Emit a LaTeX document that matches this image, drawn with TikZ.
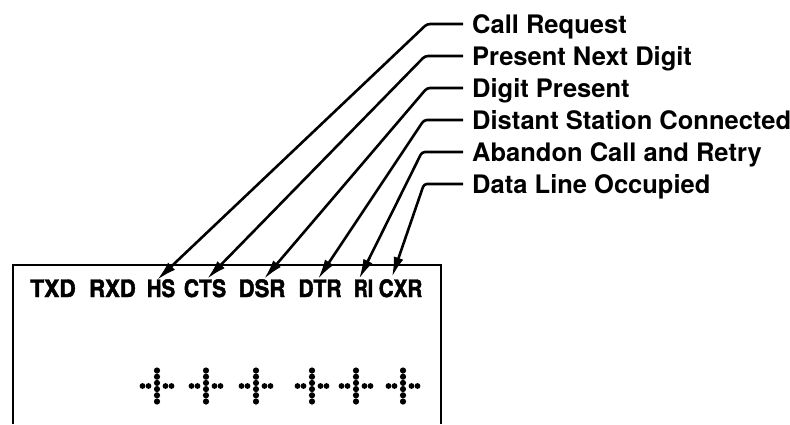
\documentclass[tikz,border=0pt]{standalone}
\usepackage{fontspec}
\setmainfont{TeX Gyre Heros}
\newfontfamily\sigfont{TeX Gyre Heros}[BoldFeatures={FakeBold=2}]
\usetikzlibrary{arrows.meta}
\begin{document}
\begin{tikzpicture}[x=1pt,y=-1pt,
  leader/.style={line width=2.6pt, rounded corners=3pt, -{Latex[length=20pt,width=10pt]}},
  lab/.style={anchor=base west, inner sep=0pt, font=\bfseries\fontsize{25.5}{28}\selectfont},
  sig/.style={anchor=base, inner sep=0pt, font=\sigfont\bfseries\fontsize{24}{26}\selectfont},
  frame/.style={line width=2.7pt},
  crossdot/.style={fill=black}]
\useasboundingbox (0,0) rectangle (790,424);

% open box
\draw[frame] (13,424) -- (13,265) -- (441,265) -- (441,424);

% signal names
\node[sig] (TXD) at (53,297) {\scalebox{0.95}[1]{TXD}};
\node[sig] (RXD) at (112.5,297) {\scalebox{0.92}[1]{RXD}};
\node[sig] (HS) at (161,297) {\scalebox{0.85}[1]{HS}};
\node[sig] (CTS) at (205,297) {\scalebox{0.88}[1]{CTS}};
\node[sig] (DSR) at (262,297) {\scalebox{0.92}[1]{DSR}};
\node[sig] (DTR) at (320,297) {\scalebox{0.88}[1]{DTR}};
\node[sig] (RI) at (363.5,297) {\scalebox{0.8}[1]{RI}};
\node[sig] (CXR) at (400.5,297) {\scalebox{0.86}[1]{CXR}};

% labels
\node[lab] (L1) at (472,33) {Call Request};
\node[lab] (L2) at (472,65) {Present Next Digit};
\node[lab] (L3) at (472,97) {Digit Present};
\node[lab] (L4) at (472,129) {Distant Station Connected};
\node[lab] (L5) at (472,161) {Abandon Call and Retry};
\node[lab] (L6) at (472,193) {Data Line Occupied};

% leader corners and tips
\coordinate (c1) at (427,24);  \coordinate (t1) at (157,280);
\coordinate (c2) at (425,56);  \coordinate (t2) at (207,279);
\coordinate (c3) at (427,88);  \coordinate (t3) at (264,279);
\coordinate (c4) at (424,120); \coordinate (t4) at (318,279);
\coordinate (c5) at (422,152); \coordinate (t5) at (359,279);
\coordinate (c6) at (424,184); \coordinate (t6) at (392,277);

\draw[leader] ([shift={(-9,-9)}]L1.base west) -- (c1) -- (t1);
\draw[leader] ([shift={(-9,-9)}]L2.base west) -- (c2) -- (t2);
\draw[leader] ([shift={(-9,-9)}]L3.base west) -- (c3) -- (t3);
\draw[leader] ([shift={(-9,-9)}]L4.base west) -- (c4) -- (t4);
\draw[leader] ([shift={(-9,-9)}]L5.base west) -- (c5) -- (t5);
\draw[leader] ([shift={(-9,-9)}]L6.base west) -- (c6) -- (t6);

% dotted crosses
\foreach \cx in {157,206,256,312,356,403} {
  \foreach \dy in {-15.5,-9.3,-3.1,3.1,9.3,15.5}
    \fill[crossdot] (\cx,386+\dy) circle (3.1);
  \foreach \dx in {-14.5,-8.5,8.5,14.5}
    \fill[crossdot] (\cx+\dx,386) circle (2.9);
}
\end{tikzpicture}
\end{document}
